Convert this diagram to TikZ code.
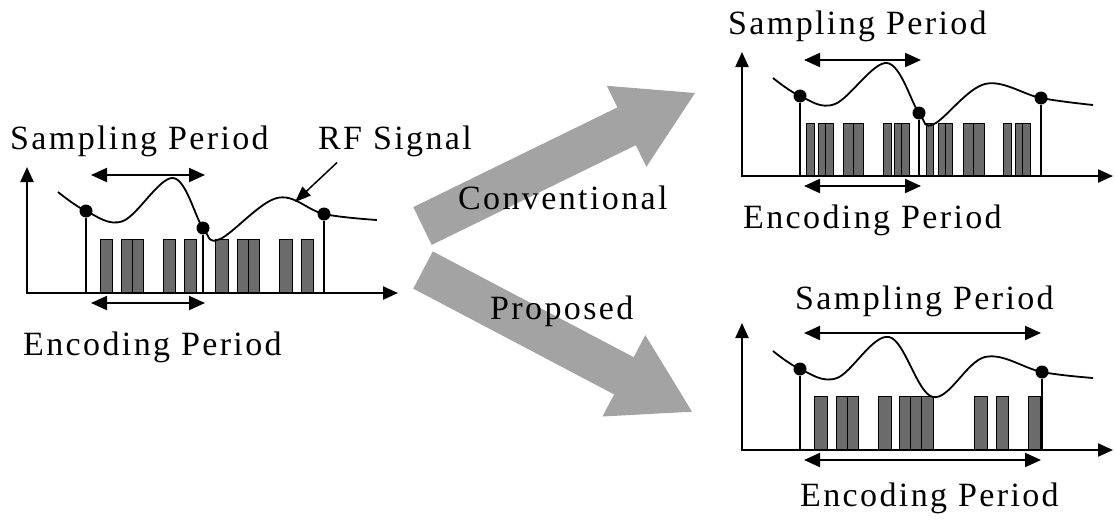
\documentclass[tikz,border=0pt]{standalone}
\usepackage{fontspec}
\setmainfont{Liberation Serif}[LetterSpace=7]
\usetikzlibrary{arrows.meta}
\begin{document}
\begin{tikzpicture}[x=1pt,y=-1pt]
\tikzset{
  lab/.style={font=\fontsize{34}{40}\selectfont, inner sep=0pt, anchor=base west},
  axis/.style={line width=2.2pt, {Triangle[length=15pt,width=13pt]}-{Triangle[length=15pt,width=13pt]}},
  sig/.style={line width=1.8pt},
  stem/.style={line width=2pt},
  dot/.style={circle, fill=black, inner sep=0pt, minimum size=13pt},
  bar/.style={draw=black, line width=1pt, fill=black!58},
  span/.style={line width=2pt, {Triangle[length=16pt,width=14pt]}-{Triangle[length=16pt,width=14pt]}},
  pointer/.style={line width=1.5pt, -{Triangle[length=16pt,width=12pt]}},
  bigarrow/.style={fill=black!36},
}
\useasboundingbox (0,0) rectangle (1116,520);

% ---------- block arrows ----------
\path[bigarrow] (413.3,207.1) -- (617.4,107.4) -- (606.8,85.8) -- (695,93)
  -- (646.4,166.8) -- (635.8,145.2) -- (431.7,244.9) -- cycle;
\path[bigarrow] (432.8,251.4) -- (633.7,357.2) -- (645.3,335.1) -- (692.0,411.7)
  -- (602.5,416.5) -- (614.1,394.4) -- (413.2,288.6) -- cycle;
\node[lab] (conv) at (458,209) {Conventional};
\node[lab] (prop) at (490,319) {Proposed};

% ---------- left panel ----------
\coordinate (Lo) at (27,293);
\coordinate (Ly) at (27,167);
\coordinate (Lx) at (398,293);
\foreach \a/\b in {100/112, 121/132, 132/143, 163/175, 184/196, 215/228, 237/248, 248/259, 279/292, 301/313}
  \draw[bar] (\a,239) rectangle (\b,293);
\draw[axis] (Ly) -- (Lo) -- (Lx);
\draw[sig] plot[smooth, tension=0.6] coordinates
  {(58,192) (86,211) (123,221) (173,178) (203,228) (220,239) (277,198) (324,214) (377,220)};
\node[dot] (L1) at (86,211) {};
\node[dot] (L2) at (203,228) {};
\node[dot] (L3) at (324,214) {};
\draw[stem] (L1) -- (L1 |- Lo);
\draw[stem] (L2) -- (L2 |- Lo);
\draw[stem] (L3) -- (L3 |- Lo);
\coordinate (Ls1) at (91,175);  \coordinate (Ls2) at (205,175);
\coordinate (Le1) at (91,303);  \coordinate (Le2) at (205,303);
\draw[span] (Ls1) -- (Ls2);
\draw[span] (Le1) -- (Le2);
\node[lab] (Lsamp) at (10,149) {Sampling Period};
\node[lab] (Lrf) at (318,149) {RF Signal};
\node[lab] (Lenc) at (23,355) {Encoding Period};
\coordinate (Lrft) at (295,202);
\draw[pointer] ([shift={(19pt,-6pt)}]Lrf.south west) -- (Lrft);

% ---------- upper right panel (conventional) ----------
\coordinate (To) at (742,176);
\coordinate (Ty) at (742,52);
\coordinate (Tx) at (1113,176);
\foreach \a/\b in {806/814, 818/825.5, 825.5/833, 843/853, 853/863, 883/891, 894/901.5, 901.5/909,
                   926/933, 938/945, 945/952, 963/973.5, 973.5/984, 1003/1011, 1015/1022.5, 1022.5/1030}
  \draw[bar] (\a,123) rectangle (\b,176);
\draw[axis] (Ty) -- (To) -- (Tx);
\draw[sig] plot[smooth, tension=0.6] coordinates
  {(773,78) (800,96) (835,104) (887,63) (919,113) (934,124) (985,84) (1041,98) (1093,105)};
\node[dot] (T1) at (800,96) {};
\node[dot] (T2) at (919,113) {};
\node[dot] (T3) at (1041,98) {};
\draw[stem] (T1) -- (T1 |- To);
\draw[stem] (T2) -- (T2 |- To);
\draw[stem] (T3) -- (T3 |- To);
\coordinate (Ts1) at (804,60);  \coordinate (Ts2) at (921,60);
\coordinate (Te1) at (804,186); \coordinate (Te2) at (921,186);
\draw[span] (Ts1) -- (Ts2);
\draw[span] (Te1) -- (Te2);
\node[lab] (Tsamp) at (728,34) {Sampling Period};
\node[lab] (Tenc) at (743,228) {Encoding Period};

% ---------- lower right panel (proposed) ----------
\coordinate (Bo) at (742,450);
\coordinate (By) at (742,323);
\coordinate (Bx) at (1113,450);
\foreach \a/\b in {814/827, 836/847, 847/858, 878/891, 899/910.3, 910.3/921.7, 921.7/933,
                   974/987, 996/1008, 1028/1040}
  \draw[bar] (\a,396) rectangle (\b,450);
\draw[axis] (By) -- (Bo) -- (Bx);
\draw[sig] plot[smooth, tension=0.6] coordinates
  {(773,351) (800,369) (837,378) (889,337) (933,397) (985,357) (1042,372) (1093,378)};
\node[dot] (B1) at (800,369) {};
\node[dot] (B2) at (1042,372) {};
\draw[stem] (B1) -- (B1 |- Bo);
\draw[stem] (B2) -- (B2 |- Bo);
\coordinate (Bs1) at (804,333);  \coordinate (Bs2) at (1041,333);
\coordinate (Be1) at (804,460);  \coordinate (Be2) at (1041,460);
\draw[span] (Bs1) -- (Bs2);
\draw[span] (Be1) -- (Be2);
\node[lab] (Bsamp) at (795,309) {Sampling Period};
\node[lab] (Benc) at (800,506) {Encoding Period};
\end{tikzpicture}
\end{document}
